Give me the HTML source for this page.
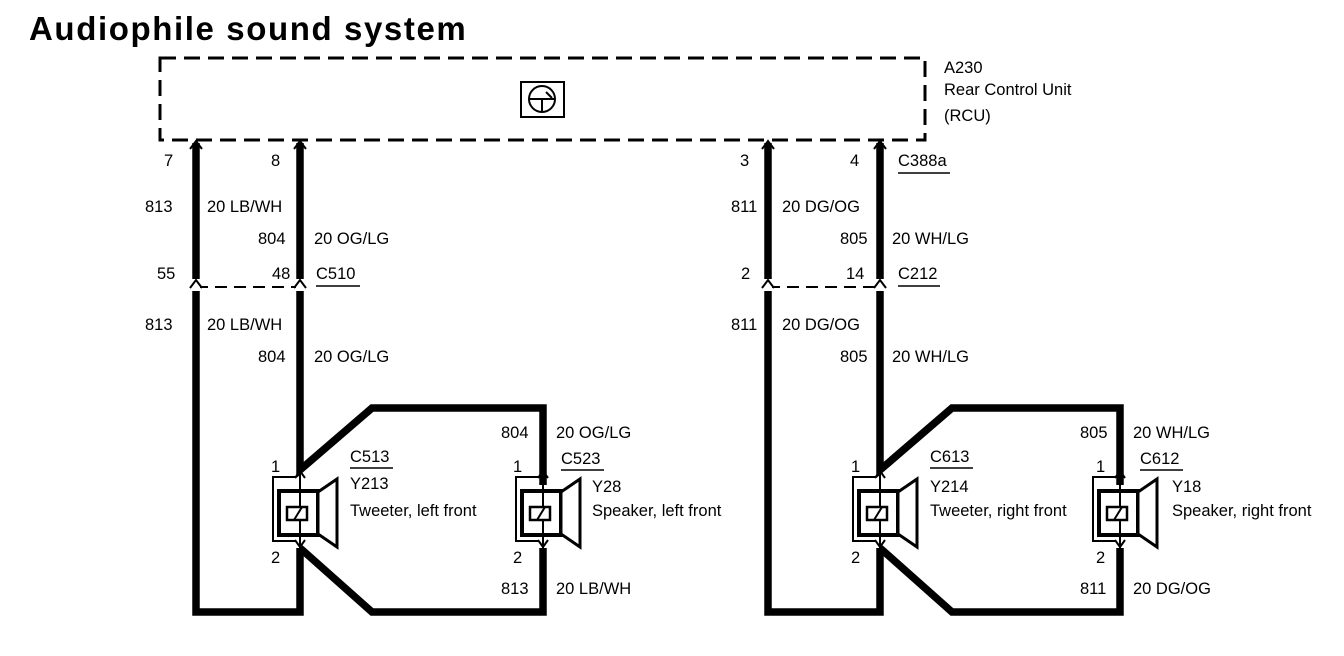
<!DOCTYPE html>
<html><head><meta charset="utf-8"><style>
html,body{margin:0;padding:0;background:#fff;}
svg{display:block}
text{font-family:"Liberation Sans",Arial,sans-serif;font-size:16.5px;fill:#000}
</style></head><body>
<svg width="1344" height="656" viewBox="0 0 1344 656" xmlns="http://www.w3.org/2000/svg">
<defs>
<g id="comp">
  <path d="M-4,477 H-27 V541 H-4" fill="none" stroke="#000" stroke-width="2"/>
  <rect x="-21" y="491" width="39" height="44" fill="#fff" stroke="#000" stroke-width="4"/>
  <line x1="0" y1="470" x2="0" y2="548" stroke="#000" stroke-width="2"/>
  <rect x="-13" y="507" width="20" height="13" fill="#fff" stroke="#000" stroke-width="2.5"/>
  <line x1="-6" y1="520" x2="2" y2="507" stroke="#000" stroke-width="2"/>
  <path d="M18,492 L37,479 V547 L18,534 Z" fill="#fff" stroke="#000" stroke-width="3"/>
  <path d="M-5,478 L0,471 L5,478 M-5,540 L0,547 L5,540" fill="none" stroke="#000" stroke-width="2"/>
</g>
<path id="chev" d="M-6,8 L0,0 L6,8" fill="none" stroke="#000" stroke-width="2"/>
</defs>

<text x="29" y="40" style="font-size:33px;font-weight:bold;letter-spacing:1.6px">Audiophile sound system</text>

<rect x="160" y="58" width="765" height="82" fill="none" stroke="#000" stroke-width="3" stroke-dasharray="16,8"/>
<rect x="521" y="82" width="43" height="35" fill="none" stroke="#000" stroke-width="2"/>
<circle cx="542" cy="99" r="13" fill="none" stroke="#000" stroke-width="2"/>
<path d="M530,99 H554 M542,99 V112 M546,92 L552,98" fill="none" stroke="#000" stroke-width="2"/>
<text x="944" y="73">A230</text>
<text x="944" y="95">Rear Control Unit</text>
<text x="944" y="121">(RCU)</text>

<g fill="none" stroke="#000" stroke-width="7.5">
  <path d="M196,143 V612 H300 V548"/>
  <path d="M300,143 V470 L372,408 H543 V485"/>
  <path d="M300,548 L372,612 H543 V548"/>
  <path d="M768,143 V612 H880 V548"/>
  <path d="M880,143 V470 L952,408 H1120 V485"/>
  <path d="M880,548 L952,612 H1120 V548"/>
</g>
<g fill="none" stroke="#000" stroke-width="2" stroke-dasharray="12,7">
  <path d="M196,287 H300"/>
  <path d="M768,287 H880"/>
</g>
<g fill="#fff">
  <rect x="192" y="279" width="8" height="12"/><rect x="296" y="279" width="8" height="12"/>
  <rect x="764" y="279" width="8" height="12"/><rect x="876" y="279" width="8" height="12"/>
</g>
<use href="#chev" x="196" y="141"/><use href="#chev" x="300" y="141"/>
<use href="#chev" x="768" y="141"/><use href="#chev" x="880" y="141"/>
<use href="#chev" x="196" y="280"/><use href="#chev" x="300" y="280"/>
<use href="#chev" x="768" y="280"/><use href="#chev" x="880" y="280"/>

<use href="#comp" x="300"/>
<use href="#comp" x="543"/>
<use href="#comp" x="880"/>
<use href="#comp" x="1120"/>

<text x="164" y="166">7</text><text x="271" y="166">8</text>
<text x="145" y="212">813</text><text x="207" y="212">20 LB/WH</text>
<text x="258" y="244">804</text><text x="314" y="244">20 OG/LG</text>
<text x="157" y="279">55</text><text x="272" y="279">48</text>
<text x="316" y="279">C510</text><line x1="316" y1="286" x2="360" y2="286" stroke="#000" stroke-width="1.5"/>
<text x="145" y="330">813</text><text x="207" y="330">20 LB/WH</text>
<text x="258" y="362">804</text><text x="314" y="362">20 OG/LG</text>

<text x="271" y="472">1</text><text x="271" y="563">2</text>
<text x="350" y="462">C513</text><line x1="350" y1="468" x2="393" y2="468" stroke="#000" stroke-width="1.5"/>
<text x="350" y="489">Y213</text><text x="350" y="516">Tweeter, left front</text>
<text x="501" y="438">804</text><text x="556" y="438">20 OG/LG</text>
<text x="513" y="472">1</text><text x="513" y="563">2</text>
<text x="561" y="464">C523</text><line x1="561" y1="470" x2="604" y2="470" stroke="#000" stroke-width="1.5"/>
<text x="592" y="492">Y28</text><text x="592" y="516">Speaker, left front</text>
<text x="501" y="594">813</text><text x="556" y="594">20 LB/WH</text>

<text x="740" y="166">3</text><text x="850" y="166">4</text>
<text x="898" y="166">C388a</text><line x1="898" y1="173" x2="950" y2="173" stroke="#000" stroke-width="1.5"/>
<text x="731" y="212">811</text><text x="782" y="212">20 DG/OG</text>
<text x="840" y="244">805</text><text x="892" y="244">20 WH/LG</text>
<text x="741" y="279">2</text><text x="846" y="279">14</text>
<text x="898" y="279">C212</text><line x1="898" y1="286" x2="940" y2="286" stroke="#000" stroke-width="1.5"/>
<text x="731" y="330">811</text><text x="782" y="330">20 DG/OG</text>
<text x="840" y="362">805</text><text x="892" y="362">20 WH/LG</text>

<text x="851" y="472">1</text><text x="851" y="563">2</text>
<text x="930" y="462">C613</text><line x1="930" y1="468" x2="973" y2="468" stroke="#000" stroke-width="1.5"/>
<text x="930" y="492">Y214</text><text x="930" y="516">Tweeter, right front</text>
<text x="1080" y="438">805</text><text x="1133" y="438">20 WH/LG</text>
<text x="1096" y="472">1</text><text x="1096" y="563">2</text>
<text x="1140" y="464">C612</text><line x1="1140" y1="470" x2="1183" y2="470" stroke="#000" stroke-width="1.5"/>
<text x="1172" y="492">Y18</text><text x="1172" y="516">Speaker, right front</text>
<text x="1080" y="594">811</text><text x="1133" y="594">20 DG/OG</text>
</svg>
</body></html>
